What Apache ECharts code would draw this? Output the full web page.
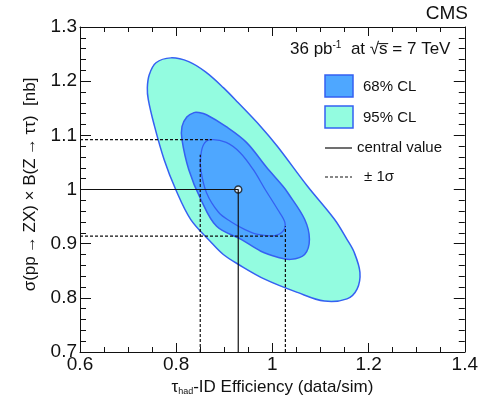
<!DOCTYPE html>
<html>
<head>
<meta charset="utf-8">
<script src="https://cdn.jsdelivr.net/npm/echarts@6/dist/echarts.min.js"></script>
<style>
  html, body { margin: 0; padding: 0; background: #fff; }
  #chart { width: 481px; height: 401px; }
</style>
</head>
<body>
<div id="chart"></div>
<script>
// Likelihood contours in the (tau-ID efficiency, cross section) plane
const contour95 = [
  [0.789, 1.243], [0.826, 1.236], [0.861, 1.217], [0.898, 1.188], [0.929, 1.160],
  [0.976, 1.116], [1.011, 1.079], [1.073, 1.006], [1.129, 0.945], [1.155, 0.908],
  [1.170, 0.884], [1.182, 0.847], [1.176, 0.816], [1.155, 0.798], [1.108, 0.794],
  [1.052, 0.810], [0.985, 0.834], [0.929, 0.862], [0.898, 0.880], [0.871, 0.904],
  [0.830, 0.945], [0.799, 1.000], [0.775, 1.055], [0.754, 1.120], [0.742, 1.166],
  [0.740, 1.188], [0.744, 1.212], [0.758, 1.234]
];
const contour68 = [
  [0.847, 1.142], [0.863, 1.138], [0.904, 1.116], [0.946, 1.087], [0.987, 1.042],
  [1.022, 1.006], [1.032, 0.994], [1.067, 0.945], [1.077, 0.908], [1.067, 0.880],
  [1.038, 0.871], [1.011, 0.875], [0.976, 0.886], [0.935, 0.908], [0.884, 0.932],
  [0.851, 0.982], [0.826, 1.037], [0.812, 1.092], [0.812, 1.116], [0.822, 1.134],
  [0.837, 1.142]
];
const contour1s = [
  [0.871, 1.092], [0.904, 1.087], [0.933, 1.068], [0.960, 1.037], [0.985, 1.000],
  [1.011, 0.963], [1.026, 0.939], [1.022, 0.923], [1.005, 0.915], [0.970, 0.917],
  [0.943, 0.926], [0.913, 0.941], [0.888, 0.958], [0.863, 0.994], [0.851, 1.037],
  [0.851, 1.061], [0.857, 1.083]
];

// Best fit and its one-sigma projections
const centralValue = [0.929, 1.0];
const sigmaX = [0.850, 1.027];
const sigmaY = [0.914, 1.092];
const sigmaTangentX = [0.874, 1.022];   // where the horizontal projections meet the contour
const sigmaTangentY = [1.064, 0.932];   // where the vertical projections meet the contour

const xMin = 0.6, xMax = 1.4, xStep = 0.2;
const yMin = 0.7, yMax = 1.3, yStep = 0.1;

const FONT = '"Liberation Sans", Arial, sans-serif';
const FILL95 = '#93fce0';
const FILL68 = '#4ea7ff';
const EDGE = '#3560f2';
const INK = '#111';

function contourSeries(name, pts, fill, edgeWidth) {
  return {
    name: name,
    type: 'custom',
    coordinateSystem: 'cartesian2d',
    xAxisIndex: 0, yAxisIndex: 0,
    data: pts,
    silent: true,
    renderItem: function (params, api) {
      if (params.dataIndex !== 0) return null;
      const points = pts.map(p => api.coord(p));
      return {
        type: 'polygon',
        shape: { points: points, smooth: 0.35 },
        style: { fill: fill, stroke: EDGE, lineWidth: edgeWidth }
      };
    }
  };
}

function lineSeries(data, dashed) {
  return {
    type: 'line',
    xAxisIndex: 0, yAxisIndex: 0,
    data: data,
    symbol: 'none',
    silent: true,
    animation: false,
    lineStyle: { color: INK, width: 1.2, type: dashed ? [3, 2] : 'solid' }
  };
}

const tickCommon = (len) => ({ show: true, inside: true, length: len, lineStyle: { color: INK, width: 1 } });
const minorCommon = (n, len) => ({ show: true, splitNumber: n, length: len, lineStyle: { color: INK, width: 1 } });
const axisLineCommon = { show: true, onZero: false, lineStyle: { color: INK, width: 1 } };

const option = {
  animation: false,
  backgroundColor: '#fff',
  grid: { left: 80, right: 12, top: 27, bottom: 48, containLabel: false },
  xAxis: [
    {
      type: 'value', min: xMin, max: xMax, interval: xStep, position: 'bottom',
      axisLine: axisLineCommon,
      axisTick: tickCommon(9),
      minorTick: minorCommon(4, 5),
      splitLine: { show: false },
      axisLabel: { color: INK, fontSize: 19, fontFamily: FONT, margin: 3 },
      name: '{t|τ}{sub|had}{t|-ID Efficiency (data/sim)}',
      nameLocation: 'middle',
      nameGap: 27,
      nameTextStyle: {
        color: INK, fontFamily: FONT, fontSize: 17,
        rich: {
          t: { fontSize: 17, fontFamily: FONT, color: INK },
          sub: { fontSize: 9, fontFamily: FONT, color: INK, verticalAlign: 'bottom', padding: [6, 0, 0, 0] }
        }
      }
    },
    {
      type: 'value', min: xMin, max: xMax, interval: xStep, position: 'top',
      axisLine: axisLineCommon,
      axisTick: tickCommon(9),
      minorTick: minorCommon(4, 5),
      splitLine: { show: false },
      axisLabel: { show: false }
    }
  ],
  yAxis: [
    {
      type: 'value', min: yMin, max: yMax, interval: yStep, position: 'left',
      axisLine: axisLineCommon,
      axisTick: tickCommon(11),
      minorTick: minorCommon(5, 6),
      splitLine: { show: false },
      axisLabel: { color: INK, fontSize: 19, fontFamily: FONT, margin: 3 },
      name: 'σ(pp\u2009→\u2009ZX) × B(Z\u2009→\u2009ττ)  [nb]',
      nameLocation: 'middle',
      nameGap: 41,
      nameTextStyle: { color: INK, fontFamily: FONT, fontSize: 17, padding: [0, 0, 0, 10] }
    },
    {
      type: 'value', min: yMin, max: yMax, interval: yStep, position: 'right',
      axisLine: axisLineCommon,
      axisTick: tickCommon(11),
      minorTick: minorCommon(5, 6),
      splitLine: { show: false },
      axisLabel: { show: false }
    }
  ],
  series: [
    contourSeries('95% CL', contour95, FILL95, 1.5),
    contourSeries('68% CL', contour68, FILL68, 1.5),
    contourSeries('1σ', contour1s, 'rgba(0,0,0,0)', 1.3),
    // one-sigma projections onto both axes
    lineSeries([[xMin, sigmaY[1]], [sigmaTangentX[0], sigmaY[1]]], true),
    lineSeries([[xMin, sigmaY[0]], [sigmaTangentX[1], sigmaY[0]]], true),
    lineSeries([[sigmaX[0], yMin], [sigmaX[0], sigmaTangentY[0]]], true),
    lineSeries([[sigmaX[1], yMin], [sigmaX[1], sigmaTangentY[1]]], true),
    // central value
    lineSeries([[xMin, centralValue[1]], centralValue, [centralValue[0], yMin]], false),
    {
      type: 'scatter',
      xAxisIndex: 0, yAxisIndex: 0,
      data: [centralValue],
      symbol: 'circle',
      symbolSize: 7,
      silent: true,
      itemStyle: { color: '#fff', borderColor: INK, borderWidth: 1.5 }
    }
  ],
  graphic: [
    { type: 'text', right: 13, top: 4,
      style: { text: 'CMS', fontSize: 19, fontFamily: FONT, fill: INK } },
    { type: 'text', left: 290, top: 40,
      style: {
        text: '{a|36 pb}{sup|-1}{a|  at √s\u0305 = 7 TeV}',
        fontFamily: FONT, fill: INK,
        rich: {
          a: { fontSize: 17, fontFamily: FONT, fill: INK },
          sup: { fontSize: 10, fontFamily: FONT, fill: INK, verticalAlign: 'top', padding: [0, 0, 8, 0] }
        }
      } },
    { type: 'rect', shape: { x: 325, y: 75, width: 28, height: 22 },
      style: { fill: FILL68, stroke: EDGE, lineWidth: 1.5 } },
    { type: 'text', left: 363, top: 79,
      style: { text: '68% CL', fontSize: 15, fontFamily: FONT, fill: INK } },
    { type: 'rect', shape: { x: 325, y: 106, width: 28, height: 22 },
      style: { fill: FILL95, stroke: EDGE, lineWidth: 1.5 } },
    { type: 'text', left: 363, top: 110,
      style: { text: '95% CL', fontSize: 15, fontFamily: FONT, fill: INK } },
    { type: 'line', shape: { x1: 325, y1: 148, x2: 352, y2: 148 },
      style: { stroke: INK, lineWidth: 1.2 } },
    { type: 'text', left: 357, top: 140,
      style: { text: 'central value', fontSize: 15, fontFamily: FONT, fill: INK } },
    { type: 'line', shape: { x1: 325, y1: 177, x2: 352, y2: 177 },
      style: { stroke: INK, lineWidth: 1.2, lineDash: [3, 2] } },
    { type: 'text', left: 364, top: 169,
      style: { text: '± 1σ', fontSize: 15, fontFamily: FONT, fill: INK } }
  ]
};

const chart = echarts.init(document.getElementById('chart'), null, { renderer: 'canvas' });
chart.setOption(option);
</script>
</body>
</html>
